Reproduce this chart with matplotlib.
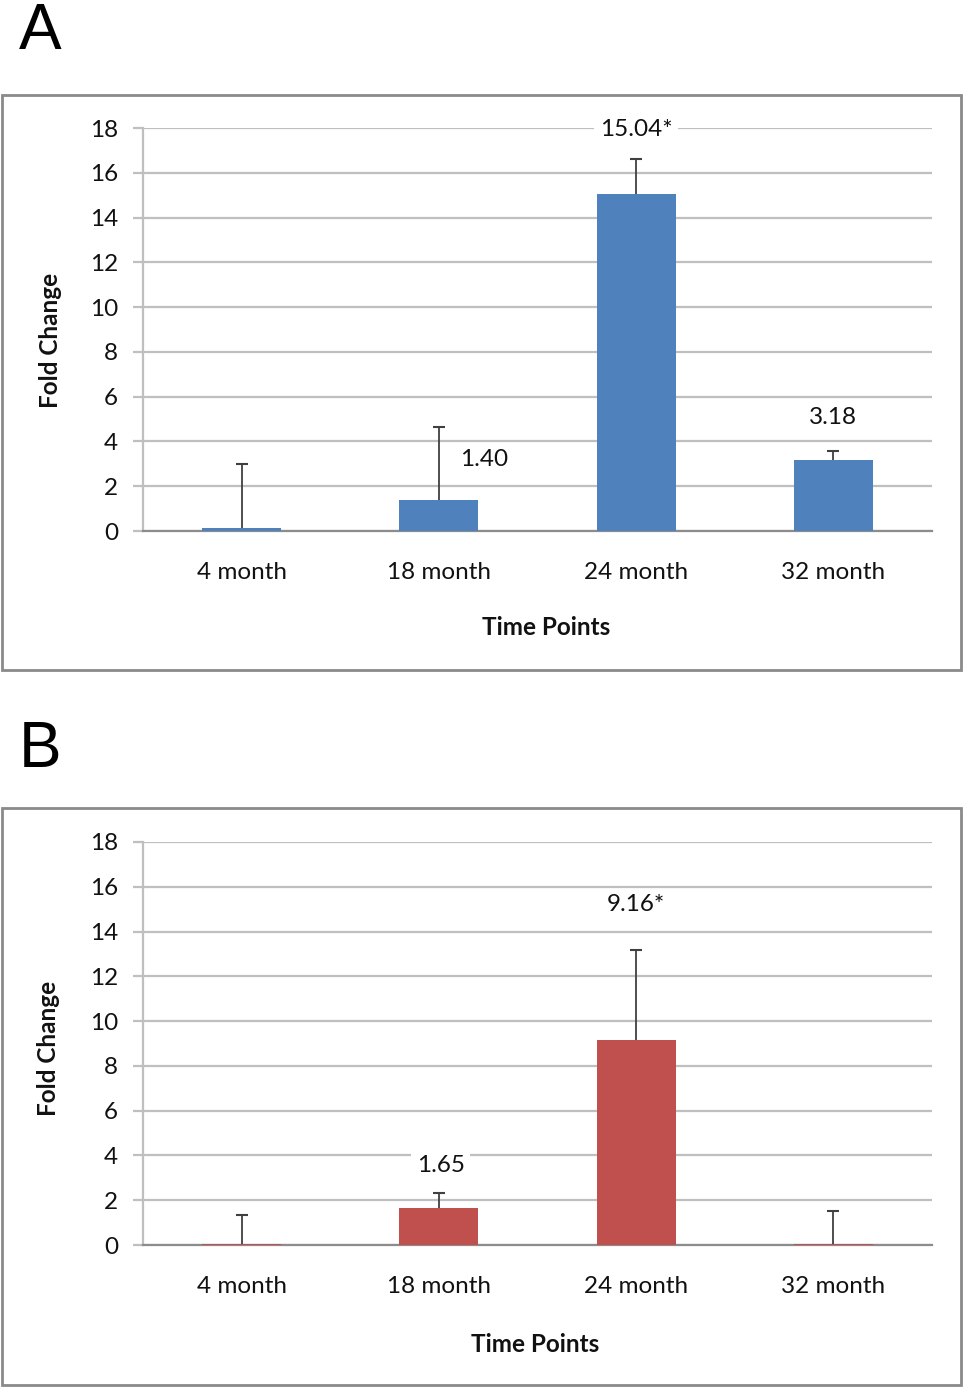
import matplotlib.pyplot as plt
from matplotlib.patches import Rectangle

categories = ["4 month", "18 month", "24 month", "32 month"]

# panel A (blue)
values_a = [0.13, 1.40, 15.04, 3.18]
err_a = [2.87, 3.24, 1.58, 0.39]
labels_a = ["", "1.40", "15.04*", "3.18"]
# panel B (red)
values_b = [0.06, 1.65, 9.16, 0.06]
err_b = [1.28, 0.67, 4.01, 1.46]
labels_b = ["", "1.65", "9.16*", ""]

# where the data labels sit (x offset in category units, y in data units)
lab_pos_a = [(0, 0), (0.23, 3.2), (0, 17.95), (0, 5.05)]
lab_pos_b = [(0, 0), (0.01, 3.57), (0, 15.2), (0, 0)]

font = "Lato"
fs = 17.5
grid_c = "#bfbfbf"
axis_c = "#8c8c8c"
err_c = "#404040"

fig = plt.figure(figsize=(9.68, 13.92), dpi=100)
W, H = 968, 1392


def panel(top_px, bottom_px, vals, errs, labs, lab_pos, color, letter, letter_base,
          box, tp_xy, fc_xy):
    ax = fig.add_axes([143 / W, 1 - bottom_px / H, (932 - 143) / W, (bottom_px - top_px) / H])
    x = list(range(len(categories)))
    tops = [v + e for v, e in zip(vals, errs)]
    ax.bar(x, vals, width=0.4, color=color, zorder=3)
    # upper error bars only
    ax.vlines(x, vals, tops, color=err_c, linewidth=1.3, zorder=4)
    ax.plot(x, tops, "_", color=err_c, markersize=8, markeredgewidth=1.5, zorder=4)
    ax.set_xlim(-0.5, len(categories) - 0.5)
    ax.set_ylim(0, 18)
    ax.set_yticks(range(0, 19, 2))
    ax.set_xticks(x)
    ax.set_xticklabels(categories, fontfamily=font, fontsize=fs)
    for t in ax.get_yticklabels():
        t.set_fontfamily(font)
        t.set_fontsize(fs)
    ax.grid(axis="y", color=grid_c, linewidth=1.6, zorder=0)
    ax.tick_params(axis="y", length=7, width=1.6, color=grid_c, pad=11, labelcolor="#111111")
    ax.tick_params(axis="x", length=0, pad=22, labelcolor="#111111")
    for s in ["top", "right"]:
        ax.spines[s].set_visible(False)
    ax.spines["left"].set_color(grid_c)
    ax.spines["left"].set_linewidth(1.6)
    ax.spines["bottom"].set_color(axis_c)
    ax.spines["bottom"].set_linewidth(1.6)
    for i, lab in enumerate(labs):
        if lab:
            dx, yy = lab_pos[i]
            ax.text(i + dx, yy, lab, ha="center", va="center", fontfamily=font,
                    fontsize=fs, color="#111111", zorder=5,
                    bbox=dict(facecolor="white", edgecolor="none", pad=4))
    # outer frame
    x0, y0, x1, y1 = box
    fig.patches.append(Rectangle((x0 / W, 1 - y1 / H), (x1 - x0) / W, (y1 - y0) / H,
                                 transform=fig.transFigure, fill=False,
                                 edgecolor="#8a8a8a", linewidth=2))
    fig.text(tp_xy[0] / W, 1 - tp_xy[1] / H, "Time Points", ha="center", va="center",
             fontfamily=font, fontsize=fs, fontweight="bold", color="#111111")
    fig.text(fc_xy[0] / W, 1 - fc_xy[1] / H, "Fold Change", ha="center", va="center",
             rotation=90, fontfamily=font, fontsize=fs, fontweight="bold", color="#111111")
    fig.text(40 / W, 1 - letter_base / H, letter, ha="center", va="baseline",
             fontfamily="Liberation Sans", fontsize=46)
    return ax


panel(128, 531, values_a, err_a, labels_a, lab_pos_a, "#4f81bd", "A", 49,
      (2, 95, 961, 670), (546, 628), (50, 340))
panel(842, 1245, values_b, err_b, labels_b, lab_pos_b, "#c0504d", "B", 767,
      (2, 808, 961, 1385), (535, 1345), (48, 1048))

fig.savefig("out.png", dpi=100)
